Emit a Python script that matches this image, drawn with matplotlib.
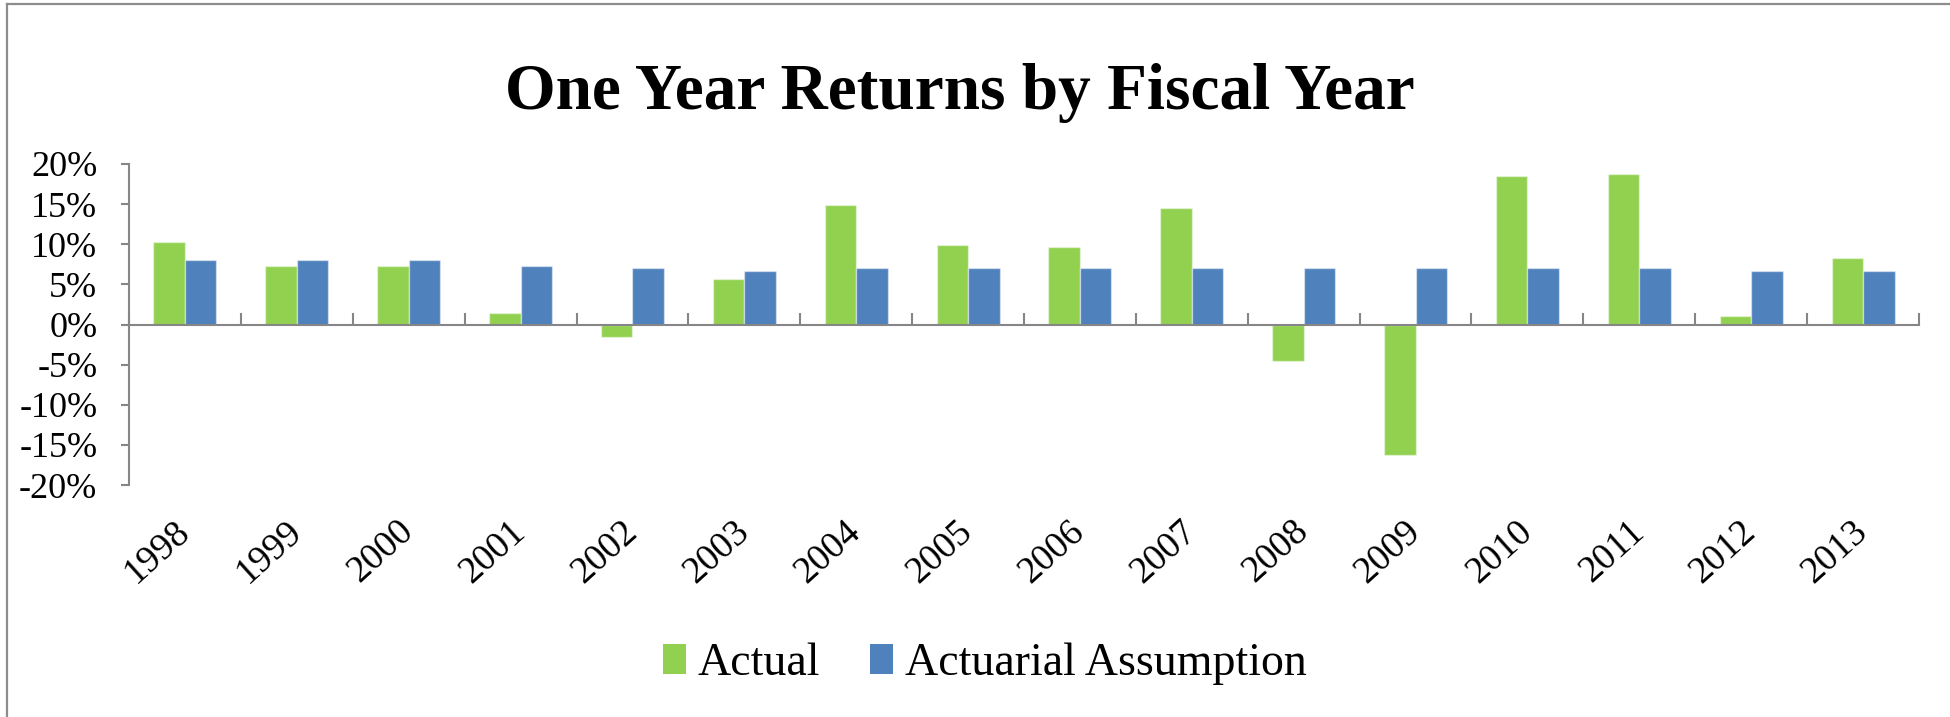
import numpy as np
import matplotlib
matplotlib.use("Agg")
import matplotlib.pyplot as plt
from matplotlib.lines import Line2D
from matplotlib.patches import Patch
from matplotlib.ticker import FuncFormatter

years = ["1998", "1999", "2000", "2001", "2002", "2003", "2004", "2005",
         "2006", "2007", "2008", "2009", "2010", "2011", "2012", "2013"]
actual = [10.3, 7.3, 7.3, 1.4, -1.5, 5.7, 14.9, 9.9, 9.6, 14.5, -4.5, -16.3,
          18.5, 18.8, 1.1, 8.3]
assumption = [8.0, 8.0, 8.0, 7.3, 7.0, 6.7, 7.0, 7.0, 7.0, 7.0, 7.0, 7.0,
              7.0, 7.0, 6.7, 6.7]
series_names = ["Actual", "Actuarial Assumption"]
yticks = [-20, -15, -10, -5, 0, 5, 10, 15, 20]

GREEN = "#92D050"
BLUE = "#4F81BD"
GRAY = "#868686"
SERIF = ["Liberation Serif", "DejaVu Serif"]

plt.rcParams["axes.unicode_minus"] = False
plt.rcParams["font.family"] = SERIF

W, H = 1950, 717
fig = plt.figure(figsize=(W / 100, H / 100), dpi=100)
fig.patch.set_facecolor("white")

ax = fig.add_axes([129 / W, 1 - 485 / H, (1919 - 129) / W, (485 - 164) / H])
x = np.arange(len(years))
bw = 0.282
ax.bar(x - bw / 2, actual, width=bw, color=GREEN, edgecolor=(1, 1, 1, 0.45), linewidth=1.0)
ax.bar(x + bw / 2, assumption, width=bw, color=BLUE, edgecolor=(1, 1, 1, 0.45), linewidth=1.0)

ax.set_xlim(-0.5, len(years) - 0.5)
ax.set_ylim(-20, 20)

for s in ["top", "right"]:
    ax.spines[s].set_visible(False)
ax.spines["left"].set_color(GRAY)
ax.spines["left"].set_linewidth(1.5)
ax.spines["bottom"].set_position(("data", 0))
ax.spines["bottom"].set_color(GRAY)
ax.spines["bottom"].set_linewidth(1.5)

ax.set_yticks(yticks)
ax.yaxis.set_major_formatter(FuncFormatter(lambda v, p: f"{int(round(v))}%"))
ax.tick_params(axis="y", direction="out", length=5.8, width=1.5, color=GRAY,
               labelsize=26, pad=17)

ax.set_xticks(np.arange(-0.5, len(years), 1.0))
ax.tick_params(axis="x", direction="in", length=9, width=1.5, color=GRAY,
               labelbottom=False)

sec = ax.secondary_xaxis("bottom")
sec.spines["bottom"].set_visible(False)
sec.set_xticks(x, labels=years)
sec.tick_params(axis="x", length=0, pad=30, labelsize=27)
plt.setp(sec.get_xticklabels(), rotation=42, ha="right", va="center",
         rotation_mode="anchor")

fig.text(960 / W, 1 - 109 / H, "One Year Returns by Fiscal Year",
         ha="center", va="baseline", fontsize=47, fontweight="bold", family=SERIF)

handles = [Patch(facecolor=GREEN, edgecolor="none"), Patch(facecolor=BLUE, edgecolor="none")]
fig.legend(handles, series_names, loc="center", bbox_to_anchor=(985 / W, 1 - 664 / H),
           ncol=2, frameon=False, fontsize=33, handlelength=0.5, handleheight=0.65,
           handletextpad=0.25, columnspacing=1.1, borderaxespad=0)

fig.add_artist(Line2D([7 / W, 1], [1 - 4 / H, 1 - 4 / H], transform=fig.transFigure,
                      color="#8c8c8c", linewidth=1.6))
fig.add_artist(Line2D([7 / W, 7 / W], [0, 1 - 4 / H], transform=fig.transFigure,
                      color="#8c8c8c", linewidth=1.6))

fig.savefig("out.png", dpi=100, facecolor="white")
